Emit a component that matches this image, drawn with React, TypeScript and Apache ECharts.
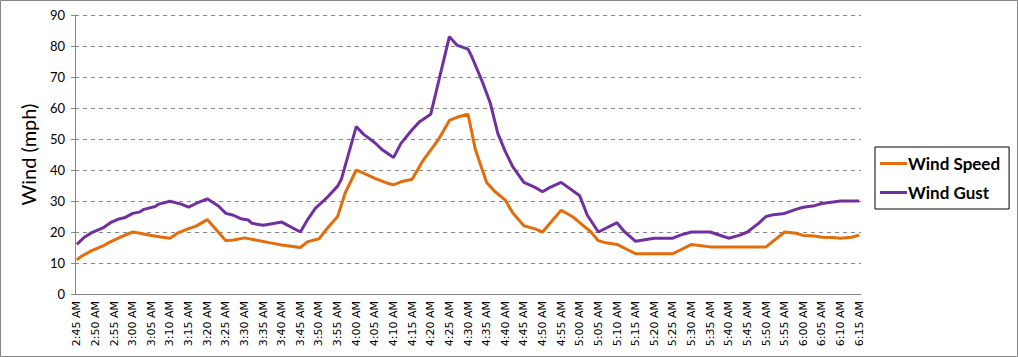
import React, { useEffect, useRef } from "react";
import * as echarts from "echarts";

// Minute-resolution category axis from 2:45 AM to 6:15 AM
const startLabel = "2:45 AM";
const endLabel = "6:15 AM";
function buildMinuteLabels(): string[] {
  const out: string[] = [];
  for (let t = 2 * 60 + 45; t <= 6 * 60 + 15; t++) {
    const h = Math.floor(t / 60);
    const m = t % 60;
    out.push(`${h}:${m < 10 ? "0" + m : m} AM`);
  }
  return out;
}
const categories = buildMinuteLabels();

// Observations: minute index (from 2:45 AM) and value (mph)
const speedMinutes = [0, 1, 4, 7, 9, 12, 15, 17, 20, 23, 25, 27, 30, 32, 35, 40, 42, 45, 48, 52, 55, 60, 62, 65, 67, 70, 72, 75, 78, 80, 83, 85, 87, 90, 93, 97, 100, 102, 105, 107, 110, 112, 115, 117, 120, 123, 125, 130, 133, 135, 138, 140, 142, 145, 148, 150, 160, 162, 165, 170, 185, 190, 193, 195, 198, 200, 203, 205, 208, 210];
const speedValues = [11, 12, 14, 15.5, 16.8, 18.5, 20, 19.6, 18.9, 18.3, 18, 19.6, 21.1, 21.9, 24, 17.2, 17.4, 18.1, 17.4, 16.5, 15.8, 15, 16.9, 17.8, 20.9, 25, 32.5, 40, 38.4, 37.3, 35.9, 35.2, 36.2, 37, 43.2, 49.7, 56, 57, 58, 46.5, 36, 33.3, 30.3, 26.2, 22, 21, 20, 27, 25, 23, 20, 17.2, 16.5, 16, 14.2, 13, 13, 14.2, 16, 15.2, 15.2, 20, 19.6, 18.9, 18.7, 18.3, 18.2, 18, 18.3, 19];

const gustMinutes = [0, 2, 4, 7, 9, 11, 13, 15, 17, 18, 21, 22, 25, 28, 30, 32, 35, 38, 40, 42, 44, 46, 47, 50, 52, 55, 60, 62, 64, 67, 70, 71, 75, 77, 80, 82, 85, 87, 90, 92, 95, 100, 102, 105, 106, 109, 111, 113, 115, 117, 120, 123, 125, 127, 130, 135, 137, 140, 145, 147, 150, 152, 155, 160, 162, 165, 170, 173, 175, 178, 180, 183, 185, 187, 190, 193, 195, 198, 200, 203, 205, 210];
const gustValues = [16, 18.3, 19.8, 21.3, 23, 24.1, 24.7, 26, 26.5, 27.3, 28.2, 29, 29.9, 29, 28, 29.2, 30.7, 28.4, 26, 25.4, 24.3, 23.9, 22.8, 22.2, 22.6, 23.2, 20, 24.1, 27.6, 30.9, 34.8, 37, 54, 51.5, 48.8, 46.5, 44, 48.6, 53, 55.6, 58, 83, 80.3, 79, 76.6, 68, 61.5, 51.8, 46, 41.1, 36, 34.4, 33, 34.4, 36, 31.7, 25.5, 20, 23, 20.1, 17, 17.4, 18, 18, 19, 20, 20, 18.8, 18, 19, 20, 22.8, 25, 25.6, 26, 27.3, 28, 28.5, 29.2, 29.7, 30, 30];

const peakLabel = "83 mph";
const yTicks = { min: 0, max: 90, interval: 10 };

export default function App() {
  const ref = useRef<HTMLDivElement>(null);
  useEffect(() => {
    if (!ref.current) return;
    const chart = echarts.init(ref.current, null, { renderer: "svg" });
    const peak = Math.max(...gustValues);
    const speedData = speedMinutes.map((m, i) => [m, speedValues[i]]);
    const gustData = gustMinutes.map((m, i) => {
      const v = gustValues[i];
      if (v === peak) {
        return {
          value: [m, v],
          label: {
            show: true,
            position: "top",
            distance: 4,
            formatter: peakLabel,
            color: "#7030A0",
            fontFamily: "Lato, 'Open Sans', sans-serif",
            fontWeight: "bold",
            fontSize: 16,
          },
        };
      }
      return [m, v];
    });
    chart.setOption({
      animation: false,
      backgroundColor: "#fff",
      textStyle: { fontFamily: "Lato, 'Open Sans', sans-serif" },
      graphic: [
        {
          type: "rect",
          shape: { x: 0.5, y: 0.5, width: 1017, height: 356 },
          style: { fill: "none", stroke: "#868686", lineWidth: 1 },
          silent: true,
        },
      ],
      grid: { left: 75, right: 157, top: 15, bottom: 63, containLabel: false },
      legend: {
        orient: "vertical",
        left: 875,
        top: 147,
        padding: [8, 9, 8, 5],
        borderColor: "#000",
        borderWidth: 1,
        itemWidth: 27,
        itemHeight: 3,
        itemGap: 12,
        icon: "rect",
        textStyle: { fontSize: 17, fontWeight: "bold", color: "#000", padding: [0, 0, 0, -4] },
        data: ["Wind Speed", "Wind Gust"],
      },
      xAxis: {
        type: "category",
        data: categories,
        boundaryGap: true,
        axisLine: { lineStyle: { color: "#868686", width: 1 } },
        axisTick: { interval: 0, length: 4, lineStyle: { color: "#868686" } },
        axisLabel: {
          interval: 4,
          rotate: 90,
          fontSize: 11,
          color: "#000",
          margin: 7,
          fontFamily: "'DejaVu Sans', sans-serif",
        },
        splitLine: { show: false },
      },
      yAxis: {
        type: "value",
        min: yTicks.min,
        max: yTicks.max,
        interval: yTicks.interval,
        name: "Wind (mph)",
        nameLocation: "middle",
        nameGap: 37,
        nameTextStyle: { fontSize: 20, color: "#000" },
        axisLine: { show: true, lineStyle: { color: "#868686" } },
        axisTick: { show: true, length: 4, lineStyle: { color: "#868686" } },
        axisLabel: { fontSize: 13, color: "#000", margin: 10 },
        splitLine: { lineStyle: { color: "#868686", type: [4, 4], width: 1 } },
      },
      series: [
        {
          name: "Wind Speed",
          type: "line",
          data: speedData,
          showSymbol: false,
          symbol: "none",
          color: "#E46C0A",
          lineStyle: { width: 3, color: "#E46C0A" },
        },
        {
          name: "Wind Gust",
          type: "line",
          data: gustData,
          showSymbol: false,
          symbol: "none",
          color: "#7030A0",
          lineStyle: { width: 3, color: "#7030A0" },
        },
      ],
    });
    return () => chart.dispose();
  }, []);
  return (
    <div
      ref={ref}
      style={{ position: "fixed", left: 0, top: 0, width: 1018, height: 357 }}
      data-start={startLabel}
      data-end={endLabel}
    />
  );
}
